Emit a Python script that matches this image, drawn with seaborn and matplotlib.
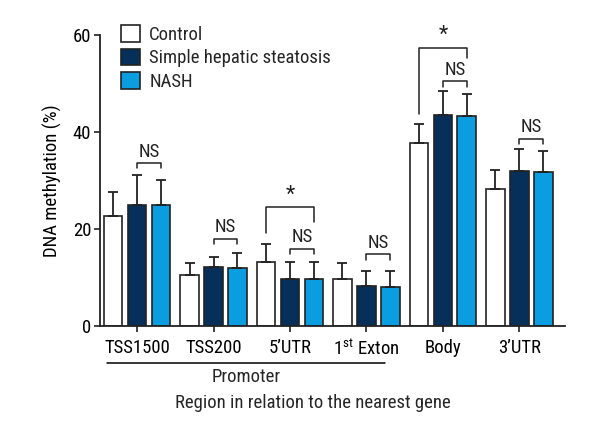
import pandas as pd
import numpy as np
import matplotlib
matplotlib.use('Agg')
import matplotlib.pyplot as plt
from matplotlib import font_manager
import seaborn as sns

# values
regions = ['TSS1500', 'TSS200', '5’UTR', '1$^{\\mathrm{st}}$ Exton', 'Body', '3’UTR']
groups = ['Control', 'Simple hepatic steatosis', 'NASH']
control = [22.7, 10.5, 13.3, 9.6, 37.7, 28.3]
steatosis = [25.0, 12.2, 9.75, 8.25, 43.6, 32.0]
nash = [24.9, 11.9, 9.8, 8.1, 43.2, 31.75]
control_sd = [5.0, 2.55, 3.7, 3.45, 3.9, 3.9]
steatosis_sd = [6.1, 2.1, 3.45, 3.05, 4.9, 4.5]
nash_sd = [5.2, 3.2, 3.4, 3.3, 4.7, 4.35]
colors = ['#ffffff', '#06305a', '#0a9de0']

# significance brackets: region, from group, to group, top, left end, right end, label
brackets = [
    (0, 1, 2, 33.6, 32.6, 32.6, 'NS'),
    (1, 1, 2, 18.0, 17.0, 17.0, 'NS'),
    (2, 0, 2, 24.5, 19.2, 21.5, '*'),
    (2, 1, 2, 15.9, 14.8, 14.8, 'NS'),
    (3, 1, 2, 14.8, 13.6, 13.6, 'NS'),
    (4, 0, 2, 57.4, 43.8, 55.2, '*'),
    (4, 1, 2, 50.5, 49.3, 49.3, 'NS'),
    (5, 1, 2, 38.6, 37.5, 37.5, 'NS'),
]

df = pd.DataFrame({
    'region': regions * 3,
    'group': np.repeat(groups, len(regions)),
    'value': control + steatosis + nash,
})
sds = [control_sd, steatosis_sd, nash_sd]

sns.set_style('ticks')

# look for a narrow face, the reference uses a condensed sans
fonts = font_manager.fontManager.ttflist
names = {f.name for f in fonts}
fs = 11.5
family = 'Roboto' if 'Roboto' in names else 'DejaVu Sans'
for cand in ['Roboto Condensed', 'Open Sans Condensed', 'Liberation Sans Narrow',
             'Noto Sans Condensed', 'DejaVu Sans Condensed']:
    if cand in names:
        family, fs = cand, 13.5
        break
else:
    cond = [f for f in fonts if f.stretch in ('condensed', 'semi-condensed', 'extra-condensed')
            and f.weight in (400, 'normal', 'regular')]
    if cond:
        family, fs = cond[0].name, 13.5
        plt.rcParams['font.stretch'] = cond[0].stretch

plt.rcParams['font.family'] = [family, 'DejaVu Sans']
plt.rcParams['mathtext.fontset'] = 'custom'
plt.rcParams['mathtext.rm'] = family
ink = '#222222'

fig = plt.figure(figsize=(6, 4.4), dpi=100)
ax = fig.add_axes([0.166, 0.259, 0.776, 0.6615])

sns.barplot(data=df, x='region', y='value', hue='group', order=regions,
            hue_order=groups, palette=colors, saturation=1, width=0.94, gap=0.22,
            errorbar=None, edgecolor=ink, linewidth=1.2, ax=ax)

bar_sets = list(ax.containers)

# upper-only error bars
centers = []
for i, cont in enumerate(bar_sets):
    xs = [b.get_x() + b.get_width() / 2 for b in cont]
    hs = [b.get_height() for b in cont]
    centers.append(xs)
    ax.errorbar(xs, hs, yerr=[np.zeros(len(hs)), sds[i]], fmt='none',
                ecolor=ink, elinewidth=1.3, capsize=3.5, capthick=1.3, zorder=1)

for r, g1, g2, top, y1, y2, lab in brackets:
    x1, x2 = centers[g1][r], centers[g2][r]
    ax.plot([x1, x1, x2, x2], [y1, top, top, y2], color=ink, lw=1.1, clip_on=False)
    if lab == '*':
        ax.text((x1 + x2) / 2, top + 0.3, lab, ha='center', va='bottom', fontsize=fs + 2, color=ink)
    else:
        ax.text((x1 + x2) / 2, top + 0.5, lab, ha='center', va='bottom', fontsize=fs, color=ink)

ax.set_ylim(0, 60)
ax.set_xlim(-0.49, 5.6)
ax.set_yticks([0, 20, 40, 60])
ax.set_xlabel('')
ax.set_ylabel('DNA methylation (%)', fontsize=fs, labelpad=8, color='black')
ax.tick_params(axis='both', labelsize=fs, length=4, width=1.2, color=ink, labelcolor='black', pad=2)
ax.tick_params(axis='x', pad=5)
sns.despine(ax=ax)
for s in ['left', 'bottom']:
    ax.spines[s].set_linewidth(1.3)
    ax.spines[s].set_color(ink)

ax.legend(bar_sets, groups, loc='upper left', bbox_to_anchor=(0.03, 1.06), frameon=False,
          fontsize=fs, handlelength=1.0, handleheight=1.0, handletextpad=0.5,
          labelspacing=0.25, borderaxespad=0)

# promoter line and labels
fig.add_artist(plt.Line2D([106.7 / 600, 385 / 600], [1 - 362.7 / 440] * 2, color='black', lw=1.1))
fig.text(245.7 / 600, 1 - 376.7 / 440, 'Promoter', ha='center', va='center', fontsize=fs)
fig.text(313 / 600, 1 - 403 / 440, 'Region in relation to the nearest gene',
         ha='center', va='center', fontsize=fs)

fig.savefig('out.png', dpi=100)
